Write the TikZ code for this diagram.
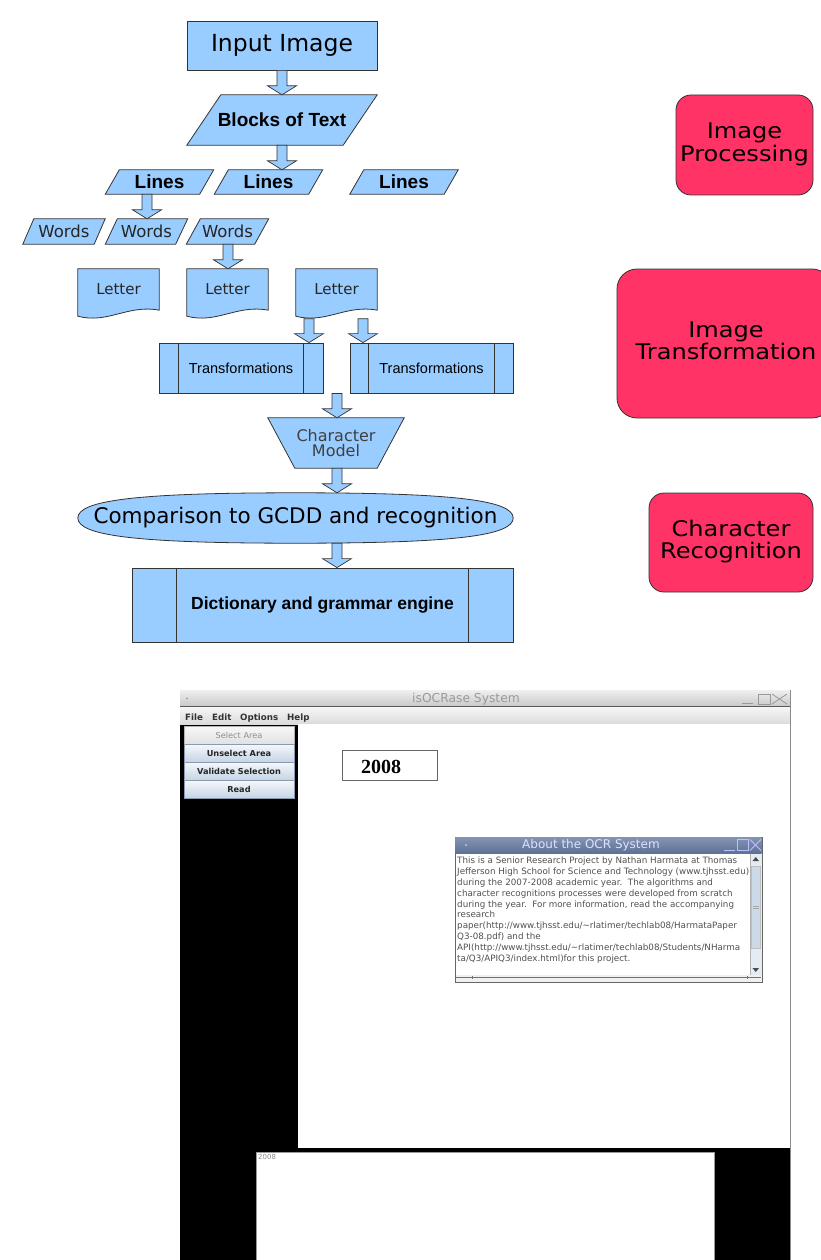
\documentclass[tikz,border=0pt]{standalone}
\usepackage{fontspec}
\setmainfont{DejaVu Sans}
\newfontfamily\arialf{Liberation Sans}
\newfontfamily\dejavuf{DejaVu Sans}
\newfontfamily\timesf{Liberation Serif}
\usetikzlibrary{shapes.geometric,calc,backgrounds}

\definecolor{flowblue}{HTML}{99CCFF}
\definecolor{flowline}{HTML}{333333}
\definecolor{redfill}{HTML}{FF3366}
\definecolor{btnline}{HTML}{8A9BB0}
\definecolor{btntop}{HTML}{F4F7FB}
\definecolor{btnbot}{HTML}{C4D3E3}
\definecolor{dlgtop}{HTML}{8394B2}
\definecolor{dlgbot}{HTML}{5C7297}
\definecolor{dlgtext}{HTML}{505050}
\definecolor{scrolltrack}{HTML}{E4EBF3}
\definecolor{scrollthumb}{HTML}{CCD9E8}

\newcommand\fsz[2]{\fontsize{#1}{#2}\selectfont}
\newcommand\redtext[2]{\scalebox{1.12}[1]{\begin{tabular}{@{}c@{}}#1\\#2\end{tabular}}}

\tikzset{
  fbox/.style={draw=flowline, fill=flowblue, line width=0.8pt, inner sep=0pt},
  ghost/.style={inner sep=0pt},
  flowshape/.style={draw=flowline, fill=flowblue, line width=0.8pt},
  barrow/.style={draw=flowline, fill=flowblue, line width=0.7pt, line join=miter},
  redb/.style={draw=flowline, fill=redfill, line width=0.8pt, inner sep=0pt, align=center,
    font={\dejavuf\fsz{21.5}{19}}},
  btn/.style={draw=btnline, top color=btntop, bottom color=btnbot, minimum width=110pt,
    minimum height=18pt, inner sep=0pt, font={\dejavuf\bfseries\fsz{8.2}{10}}, text=black!85},
  menu/.style={anchor=base west, inner sep=0pt, font={\dejavuf\bfseries\fsz{8.7}{10}}, text=black!80},
}

% block arrow: #1 = x (px), #2 = start point, #3 = end point
\newcommand\blockarrow[3]{%
  \draw[barrow] let \p1=(#2), \p2=(#3) in
    ({#1pt-5pt},\y1) -- ({#1pt+5pt},\y1) -- ({#1pt+5pt},{\y2+9pt}) --
    ({#1pt+14.5pt},{\y2+9pt}) -- ({#1pt},\y2) -- ({#1pt-14.5pt},{\y2+9pt}) --
    ({#1pt-5pt},{\y2+9pt}) -- cycle;}
% parallelogram behind a node: #1 node, #2 slant
\newcommand\slantshape[2]{%
  \begin{pgfonlayer}{background}
  \draw[flowshape] ([xshift=#2]#1.north west) -- (#1.north east) --
    ([xshift=-#2]#1.south east) -- (#1.south west) -- cycle;
  \end{pgfonlayer}}
% trapezoid (wide top) behind a node
\newcommand\trapshape[2]{%
  \begin{pgfonlayer}{background}
  \draw[flowshape] (#1.north west) -- (#1.north east) --
    ([xshift=-#2]#1.south east) -- ([xshift=#2]#1.south west) -- cycle;
  \end{pgfonlayer}}
% document shape behind a node
\newcommand\docshape[1]{%
  \begin{pgfonlayer}{background}
  \draw[flowshape] (#1.south east) -- (#1.north east) -- (#1.north west) --
    ([yshift=-6pt]#1.south west) .. controls ([shift={(30pt,-14pt)}]#1.south west)
    and ([shift={(50pt,6pt)}]#1.south west) .. (#1.south east) -- cycle;
  \end{pgfonlayer}}
% fuller ellipse (terminator-like) behind a node
\newcommand\fullellipse[1]{%
  \begin{pgfonlayer}{background}
  \draw[flowshape] (#1.west) .. controls ([yshift=18pt]#1.west) and ([xshift=-156pt]#1.north) .. (#1.north)
    .. controls ([xshift=156pt]#1.north) and ([yshift=18pt]#1.east) .. (#1.east)
    .. controls ([yshift=-18pt]#1.east) and ([xshift=156pt]#1.south) .. (#1.south)
    .. controls ([xshift=-156pt]#1.south) and ([yshift=-18pt]#1.west) .. (#1.west) -- cycle;
  \end{pgfonlayer}}
% predefined process inner lines
\newcommand\proclines[2]{%
  \draw[flowline, line width=0.8pt] ([xshift=#2]#1.north west) -- ([xshift=#2]#1.south west)
    ([xshift=-#2]#1.north east) -- ([xshift=-#2]#1.south east);}

\begin{document}
\begin{tikzpicture}[x=1pt, y=-1pt]
\begin{pgfonlayer}{background}
\fill[white] (0,0) rectangle (820,1260);
\end{pgfonlayer}
\useasboundingbox (0,0) rectangle (820,1260);

% ---------------- flowchart ----------------
\node[fbox, minimum width=190pt, minimum height=49pt, font={\dejavuf\fsz{23.5}{26}}] (inimg) at (282,45.5) {Input Image};

\node[ghost, minimum width=190pt, minimum height=50pt, font={\arialf\bfseries\fsz{19}{22}}] (blocks) at (282,120) {Blocks of Text};
\slantshape{blocks}{34pt}

\node[ghost, minimum width=108pt, minimum height=24pt, font={\arialf\bfseries\fsz{19}{22}}] (lines1) at (159.5,182) {Lines};
\slantshape{lines1}{14pt}
\node[ghost, minimum width=108pt, minimum height=24pt, font={\arialf\bfseries\fsz{19}{22}}] (lines2) at (268.5,182) {Lines};
\slantshape{lines2}{14pt}
\node[ghost, minimum width=108pt, minimum height=24pt, font={\arialf\bfseries\fsz{19}{22}}] (lines3) at (404,182) {Lines};
\slantshape{lines3}{14pt}

\node[ghost, minimum width=82pt, minimum height=25pt, font={\dejavuf\fsz{16.5}{18}}, text=black!85] (words1) at (64,231.5) {Words};
\slantshape{words1}{11pt}
\node[ghost, minimum width=82pt, minimum height=25pt, font={\dejavuf\fsz{16.5}{18}}, text=black!85] (words2) at (146.5,231.5) {Words};
\slantshape{words2}{12pt}
\node[ghost, minimum width=82pt, minimum height=25pt, font={\dejavuf\fsz{16.5}{18}}, text=black!85] (words3) at (227.5,231.5) {Words};
\slantshape{words3}{14pt}

\node[ghost, minimum width=81pt, minimum height=41pt, font={\dejavuf\fsz{15}{17}}, text=black!85] (letter1) at (118.5,289.5) {Letter};
\docshape{letter1}
\node[ghost, minimum width=81pt, minimum height=41pt, font={\dejavuf\fsz{15}{17}}, text=black!85] (letter2) at (227.5,289.5) {Letter};
\docshape{letter2}
\node[ghost, minimum width=81pt, minimum height=41pt, font={\dejavuf\fsz{15}{17}}, text=black!85] (letter3) at (336.5,289.5) {Letter};
\docshape{letter3}

\node[fbox, minimum width=164pt, minimum height=50pt, font={\arialf\fsz{14.5}{16}}] (trans1) at (241,368) {Transformations};
\proclines{trans1}{20pt}
\node[fbox, minimum width=163pt, minimum height=50pt, font={\arialf\fsz{14.5}{16}}] (trans2) at (431.5,368) {Transformations};
\proclines{trans2}{19pt}

\node[ghost, minimum width=136pt, minimum height=50pt, align=center, font={\dejavuf\fsz{16}{15}}, text=black!75] (charmodel) at (336,443) {Character\\Model};
\trapshape{charmodel}{27pt}

\node[ghost, minimum width=435pt, minimum height=50pt, font={\dejavuf\fsz{21.5}{24}}] (comp) at (295.5,518) {Comparison to GCDD and recognition};
\fullellipse{comp}

\node[fbox, minimum width=381pt, minimum height=74pt, font={\arialf\bfseries\fsz{17.5}{20}}] (dict) at (322.5,605) {Dictionary and grammar engine};
\proclines{dict}{45pt}

\blockarrow{282}{inimg.south}{blocks.north}
\blockarrow{282}{blocks.south}{lines2.north}
\blockarrow{147}{lines1.south}{words2.north}
\blockarrow{228}{words3.south}{letter2.north}
\blockarrow{309}{[yshift=-8.5pt]letter3.south}{trans1.north}
\blockarrow{363}{[yshift=-8.5pt]letter3.south}{trans2.north}
\blockarrow{337}{trans1.south}{charmodel.north}
\blockarrow{337}{charmodel.south}{comp.north}
\blockarrow{337}{comp.south}{dict.north}

% ---------------- category boxes ----------------
\node[redb, rounded corners=15pt, minimum width=137pt, minimum height=100pt] (rb1) at (744.5,145) {\redtext{Image}{Processing}};
\node[redb, rounded corners=20pt, minimum width=215pt, minimum height=149pt] (rb2) at (724.5,343.5) {\hspace*{3pt}\redtext{Image}{Transformation}};
\node[redb, rounded corners=15pt, minimum width=164pt, minimum height=99pt] (rb3) at (731,542.5) {\redtext{Character}{Recognition}};

% ---------------- screenshot ----------------
% content area
\fill[black] (180,724) rectangle (790,1260);
% title bar
\shade[top color=black!6, bottom color=black!22] (180,690) rectangle (790,707);
\node[font={\dejavuf\fsz{12.3}{14}}, text=black!40, inner sep=0pt] (wtitle) at (466,699) {isOCRase System};
\fill[black!45] (187,698.5) circle (0.9pt);
\draw[black!40, line width=1pt] (742,703.5) -- (753,703.5);
\draw[black!40, line width=0.8pt] (758,694) rectangle (770,704);
\draw[black!40, line width=0.8pt] (772,694) -- (787,704) (772,704) -- (787,694);
\draw[black!65, line width=1.2pt] (180,707) -- (790,707);
% menu bar
\shade[top color=black!4, bottom color=black!14] (180,707.6) rectangle (790,724);
\node[menu] (mfile) at (185,720.5) {File};
\node[menu] (medit) at (212,720.5) {Edit};
\node[menu] (mopt) at (240,720.5) {Options};
\node[menu] (mhelp) at (287,720.5) {Help};
% canvas
\fill[white] (298,724) rectangle (790,1148);
\draw[black!45, line width=1pt] (790,690) -- (790,1260);
% buttons
\node[btn, top color=black!3, bottom color=black!12, draw=black!30, font={\dejavuf\fsz{8.2}{10}}, text=black!45] (bsel) at (239,735.5) {Select Area};
\node[btn] (bunsel) at (239,753.5) {Unselect Area};
\node[btn] (bval) at (239,771.5) {Validate Selection};
\node[btn] (bread) at (239,789.5) {Read};
% year box
\node[draw=black!60, fill=white, line width=0.9pt, minimum width=95pt, minimum height=30pt, inner sep=0pt] (yearbox) at (389.5,765) {};
\node[font={\timesf\bfseries\fsz{20}{22}}, inner sep=0pt] (yeartext) at (381,766.5) {2008};

% about dialog
\filldraw[fill=white, draw=black!60, line width=0.8pt] (455,837) rectangle (762,982);
\shade[top color=dlgtop, bottom color=dlgbot] (455.4,837.4) rectangle (761.6,853);
\node[font={\dejavuf\fsz{12}{14}}, text=white!88!blue, inner sep=0pt] (dtitle) at (591,845) {About the OCR System};
\fill[white!80!blue] (466,845) circle (1pt);
\draw[white!75!blue, line width=1pt] (724,850.5) -- (735,850.5);
\draw[white!75!blue, line width=0.8pt] (737,839.5) rectangle (748,850.5);
\draw[white!75!blue, line width=0.8pt] (750,839.5) -- (761,850.5) (750,850.5) -- (761,839.5);
\node[anchor=north west, align=left, inner sep=0pt, font={\dejavuf\fsz{8.75}{10.8}}, text=dlgtext] (dtext) at (457,857) {%
This is a Senior Research Project by Nathan Harmata at Thomas\\
Jefferson High School for Science and Technology (www.tjhsst.edu)\\
during the 2007-2008 academic year.\ \ The algorithms and\\
character recognitions processes were developed from scratch\\
during the year.\ \ For more information, read the accompanying\\
research\\
paper(http://www.tjhsst.edu/\textasciitilde rlatimer/techlab08/HarmataPaper\\
Q3-08.pdf) and the\\
API(http://www.tjhsst.edu/\textasciitilde rlatimer/techlab08/Students/NHarma\\
ta/Q3/APIQ3/index.html)for this project.};
% scrollbar
\fill[scrolltrack] (750,853.5) rectangle (761.5,975);
\filldraw[fill=scrollthumb, draw=black!25, line width=0.5pt] (751,866) rectangle (760.5,948);
\draw[black!35, line width=0.6pt] (753,906) -- (758.5,906) (753,908.5) -- (758.5,908.5);
\fill[black!70] (752.5,861) -- (759,861) -- (755.75,857) -- cycle;
\fill[black!70] (752.5,968) -- (759,968) -- (755.75,972) -- cycle;
\draw[black!30, line width=0.5pt] (750,853.5) -- (750,975);
% bottom of dialog
\fill[black!6] (455.5,975) rectangle (761.5,981.5);
\draw[black!55, line width=0.8pt] (456,977.5) -- (761,977.5);
\draw[black!55, line width=0.8pt] (472,976) -- (472,979) (747,976) -- (747,979);

% bottom text area
\filldraw[fill=white, draw=black!40, line width=0.8pt] (256,1152) rectangle (714,1262);
\node[anchor=north west, inner sep=0pt, font={\dejavuf\fsz{7}{8}}, text=black!45] (btext) at (258,1154) {2008};
\end{tikzpicture}
\end{document}
